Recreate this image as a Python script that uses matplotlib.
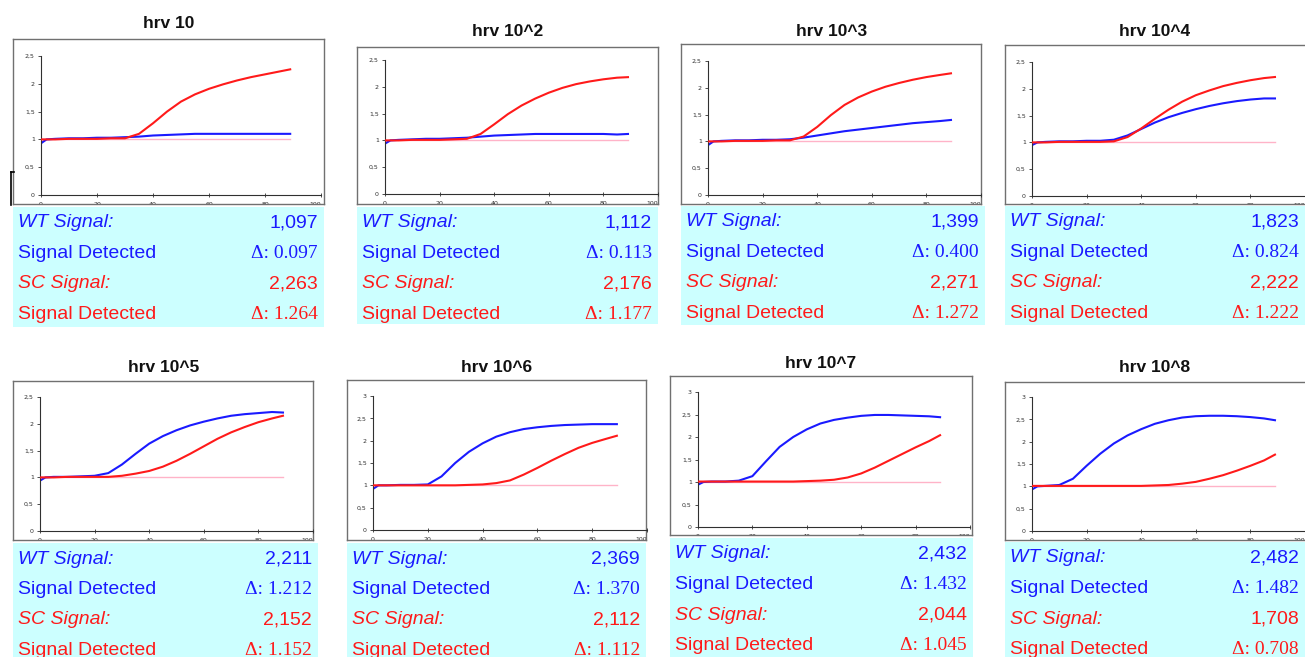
import matplotlib
matplotlib.use("Agg")
import matplotlib.pyplot as plt
from matplotlib.lines import Line2D
import numpy as np

# ---- data ----
titles = ["hrv 10", "hrv 10^2", "hrv 10^3", "hrv 10^4",
          "hrv 10^5", "hrv 10^6", "hrv 10^7", "hrv 10^8"]

cycles = [0, 2, 5, 10, 15, 20, 25, 30, 35, 40, 45, 50, 55, 60, 65, 70, 75, 80, 85, 89]
threshold = 1.0

wt_curves = [
    [0.93, 1.00, 1.01, 1.02, 1.02, 1.03, 1.03, 1.04, 1.05, 1.07, 1.08, 1.09, 1.10, 1.10, 1.10, 1.10, 1.10, 1.10, 1.10, 1.10],
    [0.94, 1.00, 1.01, 1.02, 1.03, 1.03, 1.04, 1.05, 1.07, 1.09, 1.10, 1.11, 1.12, 1.12, 1.12, 1.12, 1.12, 1.12, 1.11, 1.12],
    [0.93, 1.00, 1.01, 1.02, 1.02, 1.03, 1.03, 1.04, 1.07, 1.11, 1.15, 1.19, 1.22, 1.25, 1.28, 1.31, 1.34, 1.36, 1.38, 1.40],
    [0.95, 1.00, 1.01, 1.02, 1.02, 1.03, 1.03, 1.05, 1.13, 1.25, 1.37, 1.47, 1.55, 1.62, 1.68, 1.73, 1.77, 1.80, 1.82, 1.82],
    [0.94, 1.00, 1.01, 1.01, 1.02, 1.03, 1.08, 1.24, 1.44, 1.63, 1.77, 1.88, 1.97, 2.04, 2.10, 2.15, 2.18, 2.20, 2.22, 2.21],
    [0.92, 1.00, 1.00, 1.01, 1.01, 1.02, 1.20, 1.50, 1.75, 1.94, 2.09, 2.19, 2.26, 2.30, 2.33, 2.35, 2.36, 2.37, 2.37, 2.37],
    [0.94, 1.00, 1.01, 1.01, 1.03, 1.13, 1.46, 1.78, 2.00, 2.17, 2.30, 2.38, 2.43, 2.47, 2.49, 2.49, 2.48, 2.47, 2.46, 2.44],
    [0.93, 1.00, 1.01, 1.03, 1.17, 1.46, 1.73, 1.96, 2.14, 2.28, 2.40, 2.48, 2.54, 2.57, 2.58, 2.58, 2.57, 2.55, 2.52, 2.48],
]
sc_curves = [
    [1.00, 1.00, 1.00, 1.01, 1.01, 1.01, 1.02, 1.02, 1.10, 1.29, 1.50, 1.68, 1.81, 1.91, 1.99, 2.06, 2.12, 2.17, 2.22, 2.26],
    [1.00, 1.00, 1.00, 1.01, 1.01, 1.01, 1.02, 1.03, 1.12, 1.30, 1.49, 1.65, 1.78, 1.89, 1.98, 2.05, 2.10, 2.14, 2.17, 2.18],
    [1.00, 1.00, 1.00, 1.01, 1.01, 1.01, 1.02, 1.02, 1.09, 1.27, 1.49, 1.68, 1.82, 1.93, 2.02, 2.09, 2.15, 2.20, 2.24, 2.27],
    [1.00, 1.00, 1.00, 1.01, 1.01, 1.01, 1.01, 1.02, 1.10, 1.26, 1.44, 1.61, 1.76, 1.88, 1.97, 2.05, 2.11, 2.16, 2.20, 2.22],
    [1.00, 1.00, 1.00, 1.01, 1.01, 1.01, 1.01, 1.03, 1.07, 1.12, 1.20, 1.31, 1.44, 1.58, 1.72, 1.84, 1.94, 2.03, 2.10, 2.15],
    [1.00, 1.00, 1.00, 1.00, 1.00, 1.00, 1.00, 1.00, 1.01, 1.02, 1.05, 1.11, 1.24, 1.39, 1.55, 1.70, 1.84, 1.95, 2.04, 2.11],
    [1.01, 1.01, 1.01, 1.01, 1.01, 1.01, 1.01, 1.01, 1.01, 1.02, 1.03, 1.05, 1.10, 1.19, 1.32, 1.47, 1.62, 1.77, 1.91, 2.04],
    [1.01, 1.01, 1.01, 1.01, 1.01, 1.01, 1.01, 1.01, 1.01, 1.01, 1.02, 1.03, 1.06, 1.10, 1.17, 1.25, 1.35, 1.46, 1.58, 1.71],
]
y_max = [2.5, 2.5, 2.5, 2.5, 2.5, 3, 3, 3]
y_ticklabels = ["0", "0,5", "1", "1,5", "2", "2,5", "3"]
x_ticks = [0, 20, 40, 60, 80, 100]

wt_signal = ["1,097", "1,112", "1,399", "1,823", "2,211", "2,369", "2,432", "2,482"]
wt_delta = ["0.097", "0.113", "0.400", "0.824", "1.212", "1.370", "1.432", "1.482"]
sc_signal = ["2,263", "2,176", "2,271", "2,222", "2,152", "2,112", "2,044", "1,708"]
sc_delta = ["1.264", "1.177", "1.272", "1.222", "1.152", "1.112", "1.045", "0.708"]

# ---- layout in pixels of the 1305x657 picture ----
W, H = 1305, 657
frames = [(13, 39, 324, 204), (357, 47, 658, 204), (681, 44, 981, 204), (1005, 45, 1306, 204),
          (13, 381, 313, 540), (347, 380, 646, 540), (670, 376, 972, 535), (1005, 382, 1306, 540)]
# x of 0, x of 100, y of 0, y of ymax
inners = [(41, 321, 195, 56), (385, 658, 194, 60), (708, 981, 195, 61), (1032, 1305, 196, 62),
          (40, 313, 531, 397), (373, 647, 530, 396), (698, 970, 527, 392), (1032, 1305, 531, 397)]
boxes = [(13, 207, 324, 327), (357, 207, 658, 324), (681, 206, 985, 325), (1005, 206, 1305, 325),
         (13, 543, 318, 665), (347, 543, 646, 665), (670, 538, 973, 665), (1005, 542, 1305, 665)]
title_pos = [(169, 24), (508, 32), (832, 32), (1155, 32),
             (164, 367), (497, 367), (821, 364), (1155, 368)]

BLUE = "#1a1aff"
RED = "#ff1a1a"
PINK = "#ffb3c8"
CYAN = "#ccffff"
SANS = "Liberation Sans"
SERIF = "Liberation Serif"


def px_rect(x0, y0, x1, y1):
    return [x0 / W, 1 - y1 / H, (x1 - x0) / W, (y1 - y0) / H]


fig = plt.figure(figsize=(W / 100, H / 100), dpi=100)

for i in range(8):
    # outer grey frame
    fr = fig.add_axes(px_rect(*frames[i]))
    fr.set_xticks([])
    fr.set_yticks([])
    for sp in fr.spines.values():
        sp.set_color("#707070")
        sp.set_linewidth(1.0)

    # the amplification plot itself
    x0, x1, yb, yt = inners[i]
    ax = fig.add_axes(px_rect(x0, yt, x1, yb))
    ax.patch.set_alpha(0)
    ax.plot([cycles[0], cycles[-1]], [threshold, threshold], color=PINK, lw=1.0, zorder=1)
    ax.plot(cycles, wt_curves[i], color=BLUE, lw=1.5, zorder=2)
    ax.plot(cycles, sc_curves[i], color=RED, lw=1.5, zorder=3)
    ax.set_xlim(0, 100)
    ax.set_ylim(0, y_max[i])
    n = int(y_max[i] / 0.5) + 1
    ax.set_yticks(np.arange(n) * 0.5)
    ax.set_yticklabels(y_ticklabels[:n])
    ax.set_xticks(x_ticks)
    ax.set_xticklabels([str(t) for t in x_ticks])
    ax.spines["top"].set_visible(False)
    ax.spines["right"].set_visible(False)
    for side in ["left", "bottom"]:
        ax.spines[side].set_color("#303030")
        ax.spines[side].set_linewidth(0.8)
    ax.tick_params(axis="y", direction="out", length=2.5, width=0.6, pad=2,
                   labelsize=4.5, colors="#303030")
    ax.tick_params(axis="x", direction="inout", length=3, width=0.6, pad=3.5,
                   labelsize=4.5, colors="#303030")
    # x labels sit under the frame edge and are mostly cut off
    xlabs = ax.get_xticklabels()
    xlabs[-1].set_horizontalalignment("right")
    for lab in xlabs:
        lab.set_clip_box(fr.bbox)
        lab.set_clip_on(True)

    tx, ty = title_pos[i]
    fig.text(tx / W, 1 - ty / H, titles[i], ha="center", va="center",
             fontsize=12.5, fontweight="bold", family=SANS, color="#111111")

    # cyan info box
    bx0, by0, bx1, by1 = boxes[i]
    info = fig.add_axes(px_rect(bx0, by0, bx1, by1))
    info.set_facecolor(CYAN)
    info.set_xticks([])
    info.set_yticks([])
    for sp in info.spines.values():
        sp.set_visible(False)

    rows = [("WT Signal:", "italic", wt_signal[i], False, BLUE),
            ("Signal Detected", "normal", "\u0394: " + wt_delta[i], True, BLUE),
            ("SC Signal:", "italic", sc_signal[i], False, RED),
            ("Signal Detected", "normal", "\u0394: " + sc_delta[i], True, RED)]
    for r, (left, style, right, serif, col) in enumerate(rows):
        yy = 1 - (by0 + 16 + 30.5 * r) / H
        fig.text((bx0 + 5) / W, yy, left, ha="left", va="center", fontsize=14,
                 style=style, family=SANS, color=col)
        if serif:
            fig.text((bx1 - 6) / W, yy, right, ha="right", va="center", fontsize=14,
                     family=SERIF, color=col)
        else:
            fig.text((bx1 - 6) / W, yy, right, ha="right", va="center", fontsize=14,
                     family=SANS, color=col)

# small stray bracket left of the first panel
fig.add_artist(Line2D([11 / W, 11 / W], [1 - 172 / H, 1 - 205 / H], color="k", lw=1.2))
fig.add_artist(Line2D([11 / W, 14 / W], [1 - 172 / H, 1 - 172 / H], color="k", lw=1.2))

fig.savefig("out.png", dpi=100)
